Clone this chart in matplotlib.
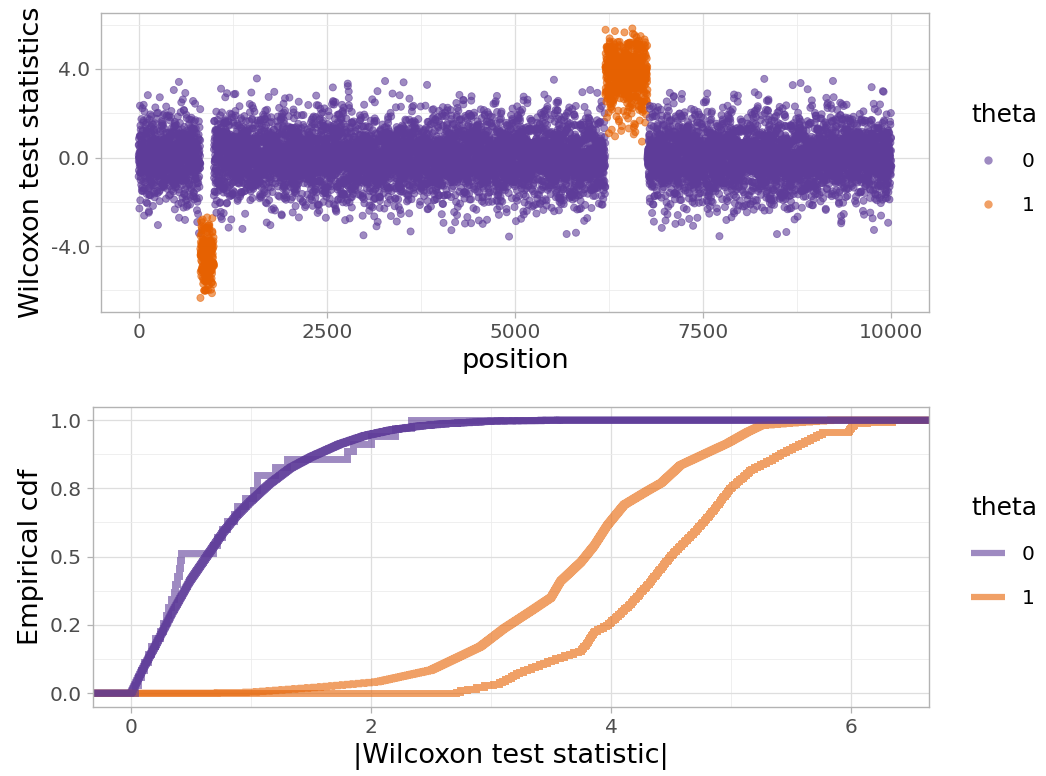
import numpy as np
import matplotlib
matplotlib.use("Agg")
import matplotlib.pyplot as plt
from matplotlib.lines import Line2D
from matplotlib.ticker import FixedLocator

# segments along the sequence (start, end, theta)
seg_start = [0, 820, 1000, 6200, 6760, 6795]
seg_end = [820, 1000, 6200, 6760, 6795, 10000]
seg_theta = [0, 1, 0, 1, 0, 0]
seg_sign = [0, -1, 0, 1, 0, 0]     # 0 = symmetric around zero

# |W| empirical cdf
null_x = [0.0, 0.1, 0.21, 0.35, 0.49, 0.63, 0.77, 0.88, 0.99, 1.15, 1.33, 1.5,
          1.74, 1.95, 2.16, 2.4, 2.6, 3.0, 3.6]
null_p = [0.0, 0.09, 0.18, 0.30, 0.41, 0.50, 0.59, 0.65, 0.70, 0.765, 0.825, 0.865,
          0.912, 0.943, 0.963, 0.978, 0.986, 0.996, 1.0]

neg_x = [2.69, 2.75, 3.05, 3.25, 3.47, 3.75, 3.86, 3.97, 4.14, 4.30, 4.47, 4.53,
         4.69, 4.83, 5.0, 5.17, 5.39, 5.61, 5.78, 5.97, 6.03, 6.33, 6.36]
neg_p = [0.0, 0.01, 0.033, 0.078, 0.115, 0.157, 0.225, 0.25, 0.32, 0.395, 0.49, 0.52,
         0.59, 0.66, 0.755, 0.82, 0.87, 0.92, 0.957, 0.957, 0.99, 0.995, 1.0]

pos_x = [0.6, 1.0, 1.6, 2.05, 2.5, 2.91, 3.11, 3.33, 3.5, 3.58, 3.75, 3.86, 3.97,
         4.11, 4.3, 4.42, 4.58, 4.75, 4.97, 5.14, 5.25, 5.53, 5.86]
pos_p = [0.0, 0.003, 0.023, 0.041, 0.084, 0.17, 0.237, 0.30, 0.35, 0.41, 0.48, 0.54, 0.615,
         0.69, 0.74, 0.77, 0.835, 0.87, 0.915, 0.957, 0.98, 0.99, 1.0]

# the short null stretch (steppy purple cdf)
short_abs = [0.03, 0.06, 0.08, 0.11, 0.14, 0.17, 0.20, 0.24, 0.27, 0.29, 0.31, 0.33,
             0.36, 0.37, 0.38, 0.40, 0.41, 0.42, 0.68, 0.72, 0.76, 0.80, 0.86, 0.88,
             0.95, 1.02, 1.05, 1.05, 1.20, 1.30, 1.80, 1.85, 2.00, 2.20, 2.33]
short_sign = [1, -1, -1, 1, -1, 1, 1, -1, 1, -1, -1, 1, 1, -1, 1, -1, 1, 1, -1, 1,
              -1, 1, -1, -1, 1, 1, -1, 1, -1, 1, 1, -1, -1, 1, 1]

purple = "#5e3c99"
orange = "#e66101"


def segment_values(i):
    n = seg_end[i] - seg_start[i]
    if i == 4:
        srt = np.array(short_abs) * np.array(short_sign)
        return srt, np.array(short_abs)
    p = (np.arange(n) + 0.5) / n
    if seg_sign[i] == 0:
        q = 2 * p - 1
        srt = np.sign(q) * np.interp(np.abs(q), null_p, null_x)
    elif seg_sign[i] < 0:
        srt = -np.interp(p, neg_p, neg_x)
    else:
        srt = np.interp(p, pos_p, pos_x)
    # scramble the order along the position axis (deterministic hash)
    j = np.arange(n) + 1000 * i
    keys = (np.sin(j * 12.9898 + 78.233) * 43758.5453) % 1
    ranks = np.argsort(np.argsort(keys))
    return srt[ranks], np.abs(srt)


position = []
stat = []
cols = []
ecdf_vals = []
for i in range(len(seg_start)):
    v, a = segment_values(i)
    position.append(np.arange(seg_start[i], seg_end[i]))
    stat.append(v)
    cols += [orange if seg_theta[i] else purple] * len(v)
    ecdf_vals.append(np.sort(a))
position = np.concatenate(position)
stat = np.concatenate(stat)

fig = plt.figure(figsize=(10.46, 7.76), dpi=100)
ax1 = fig.add_axes([101 / 1046, 1 - 312 / 776, 828 / 1046, 299 / 776])
ax2 = fig.add_axes([93 / 1046, 1 - 707 / 776, 836 / 1046, 300 / 776])


def style(ax):
    ax.set_facecolor("white")
    for s in ax.spines.values():
        s.set_color("#b3b3b3")
        s.set_linewidth(1.0)
    ax.grid(which="major", color="#dedede", lw=0.9)
    ax.grid(which="minor", color="#ececec", lw=0.6)
    ax.set_axisbelow(True)
    ax.tick_params(which="major", length=4, width=0.9, color="#b3b3b3",
                   labelsize=14.5, labelcolor="#4d4d4d", pad=4)
    ax.tick_params(which="minor", length=0)


# top panel
ax1.scatter(position, stat, c=cols, s=26, alpha=0.6, edgecolors=cols, linewidths=0.6)
ax1.set_xlim(-500, 10500)
ax1.set_ylim(-6.98, 6.53)
ax1.xaxis.set_major_locator(FixedLocator([0, 2500, 5000, 7500, 10000]))
ax1.xaxis.set_minor_locator(FixedLocator([1250, 3750, 6250, 8750]))
ax1.yaxis.set_major_locator(FixedLocator([-4, 0, 4]))
ax1.yaxis.set_minor_locator(FixedLocator([-6, -2, 2, 6]))
ax1.set_yticklabels(["-4.0", "0.0", "4.0"])
style(ax1)
ax1.set_xlabel("position", fontsize=19.5, labelpad=4)
ax1.set_ylabel("Wilcoxon test statistics", fontsize=19.5, labelpad=4)

# bottom panel
for i in range(len(seg_start)):
    a = ecdf_vals[i]
    n = len(a)
    xs = np.concatenate([[-10], a, [20]])
    ys = np.concatenate([[0], np.arange(1, n + 1) / n, [1]])
    ax2.step(xs, ys, where="post", color=orange if seg_theta[i] else purple,
             lw=5, alpha=0.6, solid_joinstyle="miter")
ax2.set_xlim(-0.317, 6.65)
ax2.set_ylim(-0.051, 1.048)
ax2.xaxis.set_major_locator(FixedLocator([0, 2, 4, 6]))
ax2.xaxis.set_minor_locator(FixedLocator([1, 3, 5]))
ax2.yaxis.set_major_locator(FixedLocator([0, 0.25, 0.5, 0.75, 1.0]))
ax2.yaxis.set_minor_locator(FixedLocator([0.125, 0.375, 0.625, 0.875]))
ax2.set_yticklabels(["0.0", "0.2", "0.5", "0.8", "1.0"])
style(ax2)
ax2.set_xlabel("|Wilcoxon test statistic|", fontsize=19.5, labelpad=4)
ax2.set_ylabel("Empirical cdf", fontsize=19.5, labelpad=4)

# legends
h1 = [Line2D([], [], ls="", marker="o", ms=6, color=purple, alpha=0.6, mew=0),
      Line2D([], [], ls="", marker="o", ms=6, color=orange, alpha=0.6, mew=0)]
h2 = [Line2D([], [], color=purple, lw=4.5, alpha=0.6, solid_capstyle="butt"),
      Line2D([], [], color=orange, lw=4.5, alpha=0.6, solid_capstyle="butt")]
for h, ytop in [(h1, 103), (h2, 496)]:
    leg = fig.legend(h, ["0", "1"], title="theta", loc="upper left",
                     bbox_to_anchor=(971 / 1046, 1 - ytop / 776), frameon=False,
                     fontsize=14.5, title_fontsize=18, handlelength=1.7,
                     handletextpad=0.8, labelspacing=1.25, borderpad=0,
                     borderaxespad=0, alignment="left")

fig.savefig("out.png", dpi=100)
